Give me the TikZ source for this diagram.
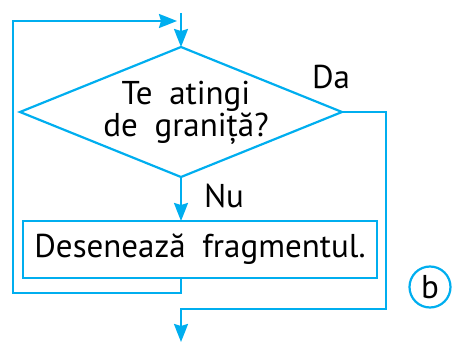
\documentclass[tikz,border=0pt]{standalone}
\usepackage{fontspec}
\setmainfont{PT Sans}[WordSpace=1.9]
\usetikzlibrary{arrows.meta,shapes.geometric}
\definecolor{flowblue}{RGB}{0,174,239}

\begin{document}
\begin{tikzpicture}[x=1pt,y=-1pt,line join=miter,
  flow/.style={draw=flowblue,line width=2.2pt},
  arr/.style={flow,-{Stealth[length=18pt,width=14pt,inset=2pt]}},
  decision/.style={diamond,flow,minimum width=322pt,minimum height=130pt,
    inner sep=0pt,outer sep=0pt},
  stepbox/.style={rectangle,flow,minimum width=354pt,minimum height=57pt,
    inner sep=0pt,outer sep=0pt},
  lbl/.style={font=\fontsize{33}{30}\selectfont,inner sep=0pt}]

  \useasboundingbox (0,0) rectangle (453,345);

  %% ---------------------------------------------------------------
  %% blocks
  %% ---------------------------------------------------------------
  % decision
  \node[decision] (cond) at (181,112) {};
  \node[lbl,align=center] (condtxt) at (186,113) {Te atingi\\de graniță?};
  % action
  \node[stepbox,lbl] (act) at (200,249.5) {Desenează fragmentul.};
  % branch labels
  \node[lbl] (yes) at (331,77) {Da};
  \node[lbl] (no) at (224,196) {Nu};
  % panel tag
  \node[circle,flow,lbl,minimum size=41pt] (tag) at (430,287) {b};

  %% ---------------------------------------------------------------
  %% connectors
  %% ---------------------------------------------------------------
  \coordinate (entry) at (181,13);
  \coordinate (back) at (13,293);
  \coordinate (join) at (177,21);
  \coordinate (exitR) at (386,309);
  \coordinate (out) at (181,342);

  \draw[arr] (entry) -- (cond.north);
  \draw[arr] (cond.south) -- (cond.south |- act.north);
  % loop back to the entry
  \draw[arr] (act.south -| cond.south) |- (back) |- (join);
  % exit on Da
  \draw[arr] (cond.east) -| (exitR) -| (out);

\end{tikzpicture}
\end{document}
